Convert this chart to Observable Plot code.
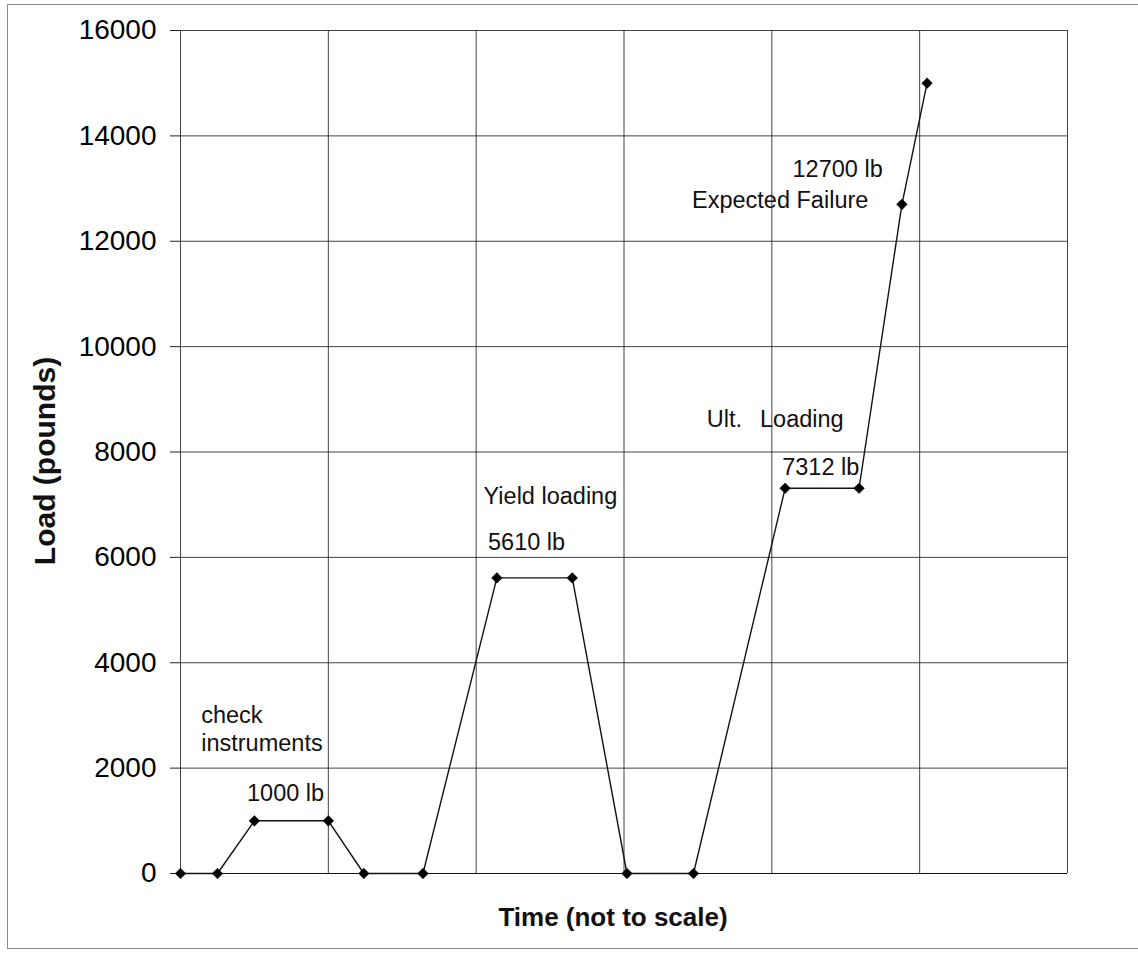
<!DOCTYPE html>
<html>
<head>
<meta charset="utf-8">
<script src="https://cdn.jsdelivr.net/npm/d3@7"></script>
<script src="https://cdn.jsdelivr.net/npm/@observablehq/plot@0.6"></script>
<style>
  html, body { margin: 0; padding: 0; background: #fff; }
  #chart { position: absolute; left: 0; top: 0; }
  #border { position: absolute; left: 7px; top: 4px; width: 1200px; height: 943px;
            border: 1.5px solid #8a8a8a; pointer-events: none; }
</style>
</head>
<body>
<div id="chart"></div>
<div id="border"></div>
<script>
// Time positions (not to scale) and loads
const times = [0, 0.25, 0.5, 1.0, 1.24, 1.64, 2.14, 2.65, 3.02, 3.47, 4.09, 4.59, 4.88, 5.05];
const loads = [0, 0, 1000, 1000, 0, 0, 5610, 5610, 0, 0, 7312, 7312, 12700, 15000];

// Y tick values
const yTicks = [0, 2000, 4000, 6000, 8000, 10000, 12000, 14000, 16000];
// Vertical grid positions on the time axis
const xGrid = [0, 1, 2, 3, 4, 5, 6];

// Annotations (anchored in data units)
const noteText = ["check", "instruments", "1000 lb", "Yield loading", "5610 lb", "Ult.", "Loading", "7312 lb", "12700 lb", "Expected Failure"];
const noteX    = [0.14, 0.14, 0.45, 2.05, 2.08, 3.56, 3.92, 4.07, 4.14, 3.46];
const noteY    = [3000, 2467, 1518, 7154, 6281, 8615, 8615, 7704, 13359, 12770];

const series = times.map((t, i) => ({time: t, load: loads[i]}));
const notes = noteText.map((s, i) => ({text: s, x: noteX[i], y: noteY[i]}));

const font = "'Liberation Sans', Arial, Helvetica, sans-serif";

const chart = Plot.plot({
  width: 1138,
  height: 956,
  marginLeft: 180,
  marginRight: 71,
  marginTop: 30,
  marginBottom: 83,
  style: {fontFamily: font, background: "transparent", color: "#000"},
  x: {domain: [0, 6], axis: null},
  y: {domain: [0, 16000], axis: null},
  marks: [
    Plot.gridX(xGrid, {stroke: "#222", strokeOpacity: 0.85, strokeWidth: 1}),
    Plot.gridY(yTicks, {stroke: "#222", strokeOpacity: 0.85, strokeWidth: 1}),
    Plot.axisY({ticks: yTicks, tickSize: 10, tickPadding: 14, fontSize: 28, label: null,
                tickFormat: d => String(d), stroke: "#222"}),
    Plot.ruleY([0], {stroke: "#111", strokeWidth: 1.2}),
    Plot.line(series, {x: "time", y: "load", stroke: "#111", strokeWidth: 1.4}),
    Plot.dot(series, {x: "time", y: "load", symbol: "diamond2", r: 4.8, fill: "#000", stroke: "#000", strokeWidth: 0.5}),
    Plot.text(notes, {x: "x", y: "y", text: "text", textAnchor: "start", lineAnchor: "middle",
                      fontSize: 23.5, fill: "#111"}),
    Plot.text(["Time (not to scale)"], {frameAnchor: "bottom", dy: 44, dx: -11, fontSize: 26,
                      fontWeight: "bold", fill: "#111", lineAnchor: "middle", textAnchor: "middle"}),
    Plot.text(["Load (pounds)"], {frameAnchor: "left", dx: -135, dy: 9, rotate: -90, fontSize: 30,
                      fontWeight: "bold", fill: "#111", lineAnchor: "middle", textAnchor: "middle"})
  ]
});
document.getElementById("chart").appendChild(chart);
</script>
</body>
</html>
